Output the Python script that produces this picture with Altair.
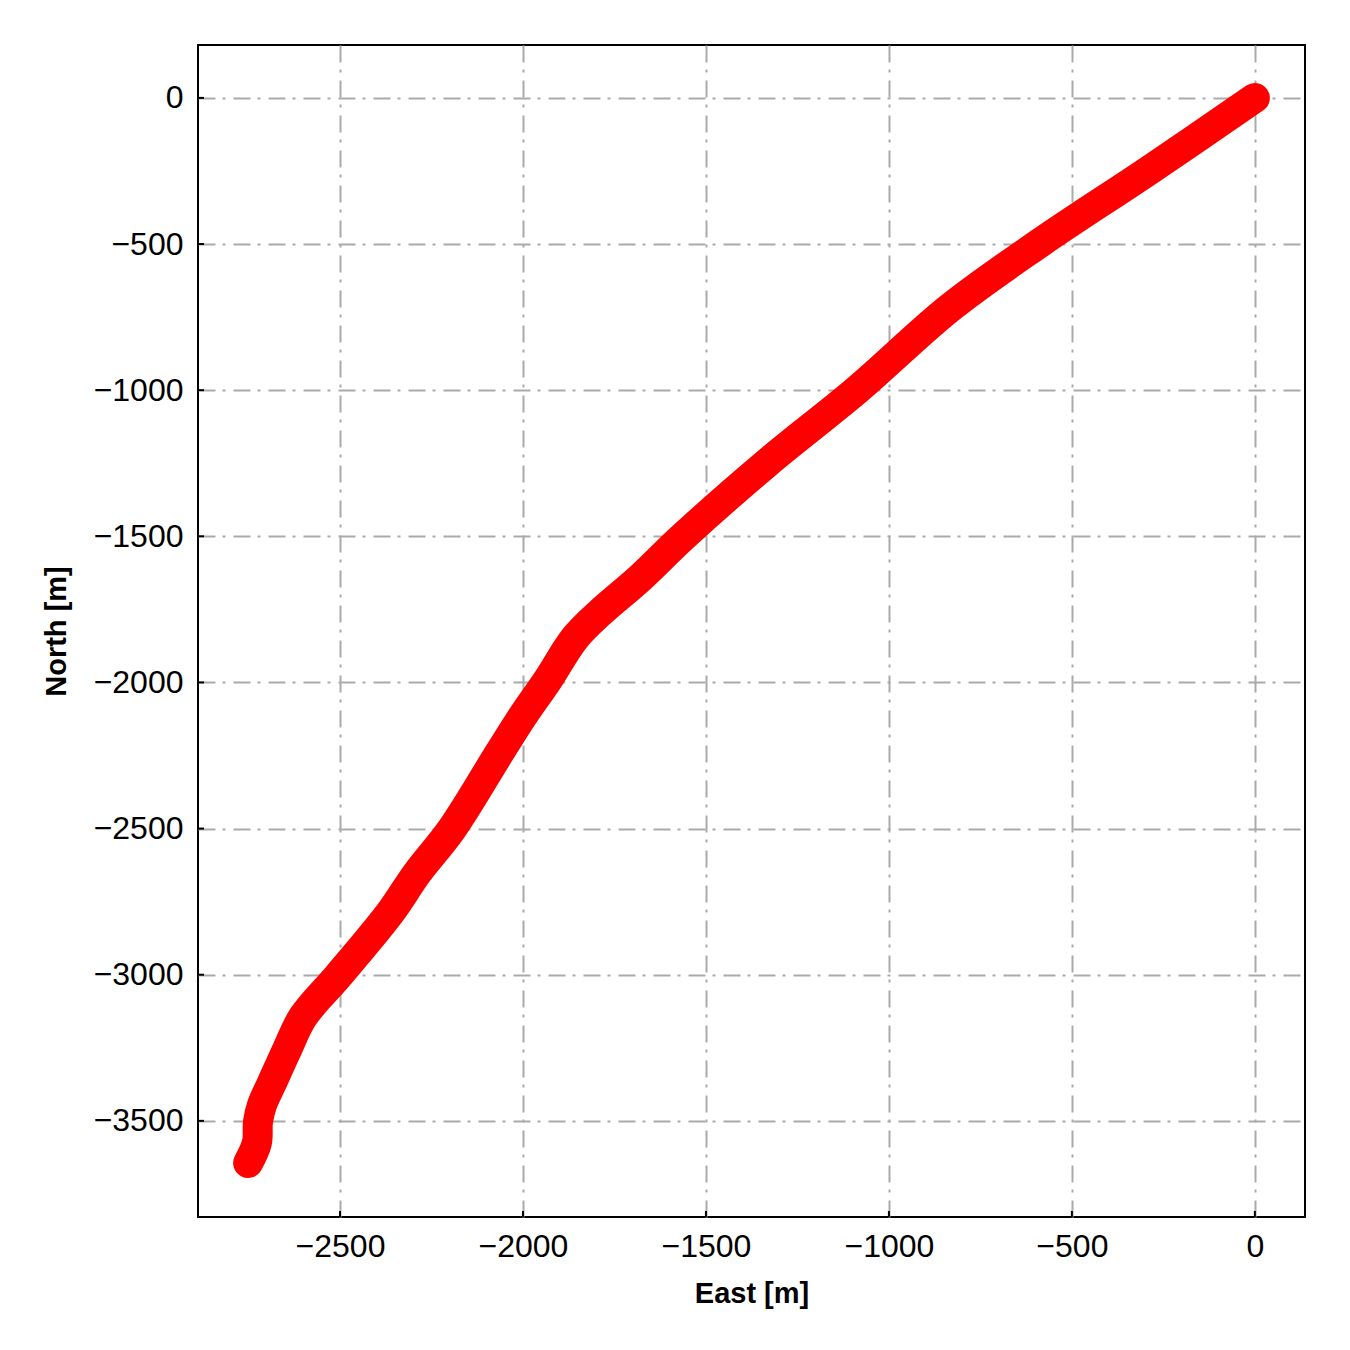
import altair as alt
import pandas as pd

# Track (metres)
east = [0, -287, -587, -833, -1087, -1333, -1563, -1680, -1790, -1858, -1932,
        -2000, -2063, -2194, -2289, -2363, -2505, -2601, -2645, -2686, -2713, -2724,
        -2727, -2751]
north = [0, -246, -496, -718, -999, -1249, -1502, -1643, -1762, -1848, -1991,
         -2114, -2238, -2501, -2652, -2788, -3004, -3144, -3257, -3370, -3445, -3503,
         -3575, -3644]

x_ticks = [-2500, -2000, -1500, -1000, -500, 0]
y_ticks = [-3500, -3000, -2500, -2000, -1500, -1000, -500, 0]

W, H = 1107, 1172
x_dom = [-2888, 137]
y_dom = [-3829, 181]

df = pd.DataFrame({"east": east, "north": north, "order": list(range(len(east)))})
xt = pd.DataFrame({"v": x_ticks})
yt = pd.DataFrame({"v": y_ticks})

xscale = alt.Scale(domain=x_dom, nice=False, zero=False)
yscale = alt.Scale(domain=y_dom, nice=False, zero=False)

common = dict(grid=True, domain=False, tickSize=0, labelFontSize=32,
              labelFont="Liberation Sans", labelColor="black",
              titleFont="Liberation Sans", titleFontSize=29, titleFontWeight="bold",
              titleColor="black", titleBaseline="alphabetic", gridColor="#aaaaaa",
              gridWidth=2, gridDash=[17, 7, 3, 8], format="d")

xaxis = alt.Axis(values=x_ticks, title="East [m]", labelPadding=14, titleY=85, **common)
yaxis = alt.Axis(values=y_ticks, title="North [m]", labelPadding=15, titleX=-133, **common)

track = alt.Chart(df).mark_line(
    color="#ff0000", strokeWidth=30, strokeCap="round", strokeJoin="round",
    interpolate="catmull-rom"
).encode(
    x=alt.X("east:Q", scale=xscale, axis=xaxis),
    y=alt.Y("north:Q", scale=yscale, axis=yaxis),
    order="order:Q",
)

xtick_marks = alt.Chart(xt).mark_rule(color="black", strokeWidth=2).encode(
    x=alt.X("v:Q", scale=xscale),
    y=alt.value(H),
    y2=alt.value(H - 6),
)
ytick_marks = alt.Chart(yt).mark_rule(color="black", strokeWidth=2).encode(
    y=alt.Y("v:Q", scale=yscale),
    x=alt.value(0),
    x2=alt.value(6),
)

chart = alt.layer(track, xtick_marks, ytick_marks).properties(
    width=W, height=H,
    autosize=alt.AutoSizeParams(type="none"),
    padding={"left": 190, "top": 37, "right": 30, "bottom": 120},
).configure(
    background="white",
    view=alt.ViewConfig(stroke="black", strokeWidth=2),
)

chart.save("out.html", embed_options={"renderer": "svg", "actions": False})
